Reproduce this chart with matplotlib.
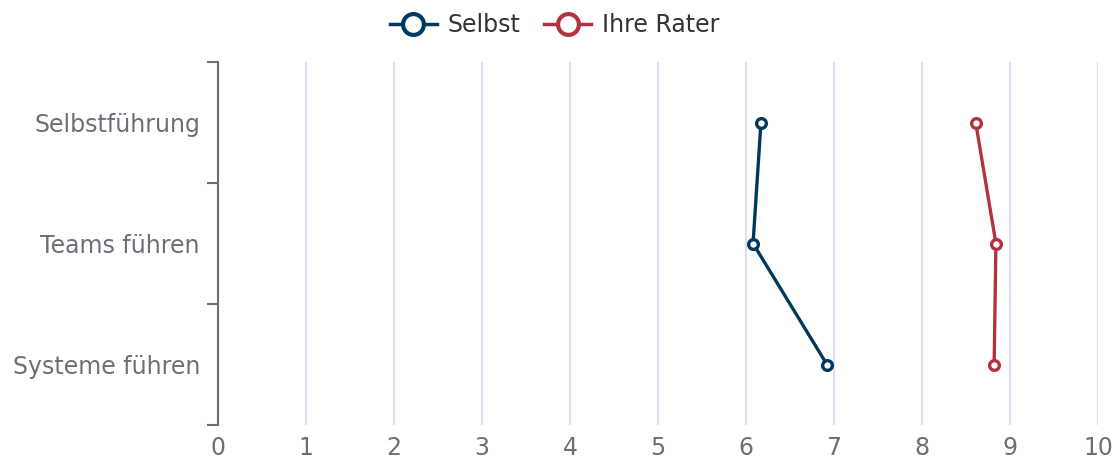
import matplotlib.pyplot as plt
from matplotlib.lines import Line2D
import numpy as np

plt.rcParams['font.family'] = ['DejaVu Sans']

categories = ['Selbstführung', 'Teams führen', 'Systeme führen']
selbst = [6.17, 6.08, 6.92]
rater = [8.61, 8.84, 8.82]

c_selbst = '#00395f'
c_rater = '#b2333f'
grey = '#6e6e78'

fig = plt.figure(figsize=(11.16, 4.59), dpi=100)
ax = fig.add_axes([218 / 1116, 34 / 459, 880 / 1116, 363 / 459])

y = np.arange(len(categories))
for vals, col in [(selbst, c_selbst), (rater, c_rater)]:
    ax.plot(vals, y, color=col, lw=2.4, marker='o', ms=7,
            mfc='white', mec=col, mew=2.4, zorder=3)

ax.set_xlim(0, 10)
ax.set_ylim(len(categories) - 0.5, -0.5)
ax.set_xticks(range(11))
ax.set_yticks(y)
ax.set_yticklabels(categories)
ax.set_yticks(np.arange(len(categories) + 1) - 0.5, minor=True)

ax.grid(axis='x', color='#dde2ef', lw=1.6)
ax.set_axisbelow(True)
for s in ['top', 'right', 'bottom']:
    ax.spines[s].set_visible(False)
ax.spines['left'].set_color(grey)
ax.spines['left'].set_linewidth(1.5)

ax.tick_params(axis='y', which='major', length=0, pad=13, labelsize=17, labelcolor=grey)
ax.tick_params(axis='y', which='minor', length=8, width=1.5, color=grey)
ax.tick_params(axis='x', length=0, pad=8, labelsize=17, labelcolor=grey)

handles = [Line2D([], [], color=c, lw=2.5, marker='o', ms=15, mfc='white', mec=c, mew=3)
           for c in (c_selbst, c_rater)]
fig.legend(handles, ['Selbst', 'Ihre Rater'], loc='upper center', bbox_to_anchor=(0.497, 1.018),
           ncol=2, frameon=False, fontsize=17, labelcolor='#333333',
           handlelength=2.0, handletextpad=0.45, columnspacing=1.0)

plt.savefig('out.png', dpi=100)
